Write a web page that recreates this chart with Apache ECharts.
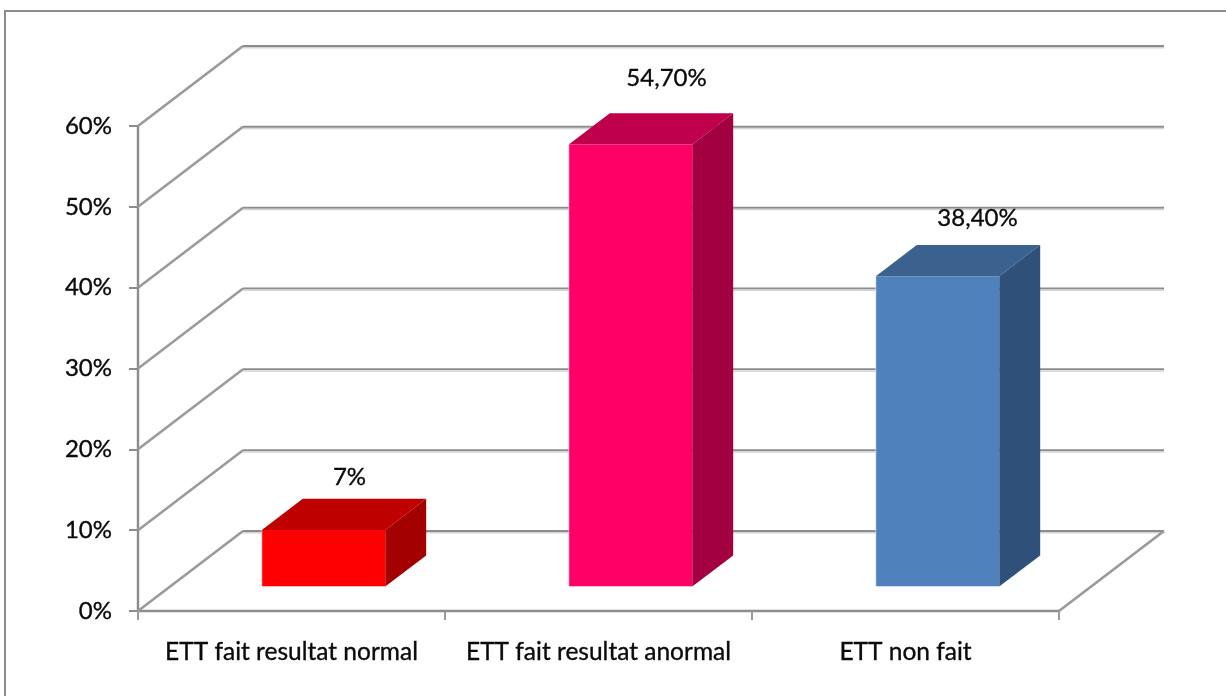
<!DOCTYPE html>
<html>
<head>
<meta charset="utf-8">
<style>html,body{margin:0;padding:0;background:#fff}#chart{width:1226px;height:696px}</style>
<script src="https://cdn.jsdelivr.net/npm/echarts@6/dist/echarts.min.js"></script>
</head>
<body>
<div id="chart"></div>
<script>
// Categories, values and the text printed above each column
const categories = ['ETT fait resultat normal', 'ETT fait resultat anormal', 'ETT non fait'];
const percentages = [7, 54.7, 38.4];
const valueLabels = ['7%', '54,70%', '38,40%'];
const axisTicks = [0, 10, 20, 30, 40, 50, 60];
const faceColors = ['#ff0000', '#ff0066', '#4f81bd'];
const topColors = ['#bf0000', '#bf004c', '#3b618e'];
const sideColors = ['#a30000', '#a30041', '#2f5179'];

// Oblique projection of the chart box
const DEPTH_X = 105, DEPTH_Y = -80;
const COLUMN_WIDTH = 0.402;   // share of a category band
const COLUMN_START = 0.305;   // where the column sits inside the box depth
const COLUMN_DEPTH = 0.39;    // how much of the box depth the column takes
const LABEL_SHIFT = [[26, -22], [36, -35], [40, -27]];
const LINE = '#8c8c8c', LINE_SOFT = '#d4d4d4';
const TEXT = '#0a0a0a';

function segment(x1, y1, x2, y2, stroke, width) {
  return { type: 'line', silent: true, shape: { x1, y1, x2, y2 }, style: { stroke, lineWidth: width } };
}

function renderWall(params, api) {
  const value = api.value(1);
  const band = api.size([1, 0])[0];
  const p = api.coord([0, value]);
  const x0 = p[0] - band / 2;
  const bx = x0 + DEPTH_X, by = p[1] + DEPTH_Y;
  const xEnd = x0 + band * categories.length + DEPTH_X;
  const children = [
    segment(x0, p[1], bx, by, '#9a9a9a', 2.6),
    segment(bx, by, xEnd, by, LINE, 2),
    segment(bx, by + 1.8, xEnd, by + 1.8, LINE_SOFT, 1.4)
  ];
  if (value === 0) {
    children.push(segment(xEnd - DEPTH_X, p[1], xEnd, by, '#9a9a9a', 2.6));
  }
  return { type: 'group', children };
}

function renderColumn(params, api) {
  const i = params.dataIndex;
  const band = api.size([1, 0])[0];
  const w = band * COLUMN_WIDTH;
  const top = api.coord([i, api.value(1)]);
  const base = api.coord([i, 0]);
  const sx = DEPTH_X * COLUMN_START, sy = DEPTH_Y * COLUMN_START;
  const dx = DEPTH_X * COLUMN_DEPTH, dy = DEPTH_Y * COLUMN_DEPTH;
  const l = top[0] - w / 2 + sx, r = l + w;
  const t = top[1] + sy, b = base[1] + sy;
  return {
    type: 'group',
    children: [
      { type: 'polygon', shape: { points: [[l, t], [r, t], [r + dx, t + dy], [l + dx, t + dy]] }, style: { fill: topColors[i] } },
      { type: 'polygon', shape: { points: [[r, t], [r + dx, t + dy], [r + dx, b + dy], [r, b]] }, style: { fill: sideColors[i] } },
      { type: 'rect', shape: { x: l, y: t, width: w, height: b - t }, style: { fill: faceColors[i] } },
      { type: 'line', shape: { x1: l, y1: t, x2: l, y2: b }, style: { stroke: 'rgba(255,255,255,0.4)', lineWidth: 1.2 } },
      { type: 'line', shape: { x1: l, y1: b, x2: r, y2: b }, style: { stroke: 'rgba(255,255,255,0.45)', lineWidth: 1.4 } },
      {
        type: 'text',
        style: {
          x: (l + r) / 2 + LABEL_SHIFT[i][0],
          y: t + dy + LABEL_SHIFT[i][1],
          text: valueLabels[i],
          fill: TEXT,
          stroke: TEXT,
          lineWidth: 0.35,
          font: '24px Lato',
          align: 'center',
          verticalAlign: 'middle'
        }
      }
    ]
  };
}

const chart = echarts.init(document.getElementById('chart'), null, { renderer: 'canvas' });
chart.setOption({
  animation: false,
  backgroundColor: '#fff',
  graphic: [{
    type: 'rect', silent: true, z: -1,
    shape: { x: 5, y: 11, width: 1300, height: 800 },
    style: { fill: 'none', stroke: '#8c8c8c', lineWidth: 2 }
  }],
  grid: { left: 138, right: 167, top: 126, bottom: 85, containLabel: false },
  xAxis: {
    type: 'category',
    data: categories,
    axisLine: { lineStyle: { color: LINE, width: 2.4 } },
    axisTick: { show: true, interval: 0, length: 9, lineStyle: { color: '#9a9a9a', width: 2 } },
    axisLabel: {
      color: TEXT, fontFamily: 'Lato', fontSize: 24.5, margin: 29, interval: 0, hideOverlap: false,
      textBorderColor: TEXT, textBorderWidth: 0.35
    }
  },
  yAxis: {
    type: 'value',
    min: 0, max: 60, interval: 10,
    splitLine: { show: false },
    axisLine: { show: true, lineStyle: { color: LINE, width: 2.4 } },
    axisTick: { show: true, length: 9, lineStyle: { color: LINE, width: 2 } },
    axisLabel: {
      color: TEXT, fontFamily: 'Lato', fontSize: 24, margin: 26, formatter: '{value}%',
      textBorderColor: TEXT, textBorderWidth: 0.35
    }
  },
  series: [
    {
      type: 'custom', z: 1, clip: false, silent: true,
      renderItem: renderWall,
      data: axisTicks.map(v => [0, v])
    },
    {
      type: 'custom', z: 3, clip: false, silent: true,
      renderItem: renderColumn,
      data: percentages.map((v, i) => [i, v])
    }
  ]
});
</script>
</body>
</html>
